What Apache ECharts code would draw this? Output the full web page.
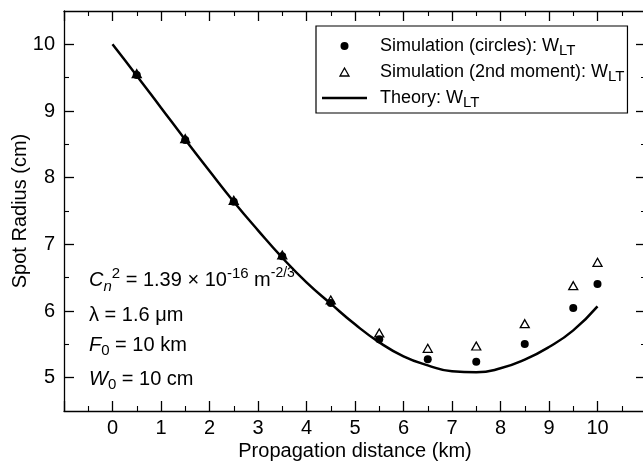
<!DOCTYPE html>
<html>
<head>
<meta charset="utf-8">
<script src="https://cdn.jsdelivr.net/npm/echarts@6/dist/echarts.min.js"></script>
<style>
  html, body { margin: 0; padding: 0; background: #fff; }
  #chart { width: 643px; height: 465px; }
</style>
</head>
<body>
<div id="chart"></div>
<script>
// Simulated spot radius sampling distances (km)
const distanceKm = [0.5, 1.5, 2.5, 3.5, 4.5, 5.5, 6.5, 7.5, 8.5, 9.5, 10];
// Spot radius from the circle-fit method (cm)
const circleRadius = [9.54, 8.565, 7.64, 6.82, 6.12, 5.575, 5.275, 5.24, 5.505, 6.045, 6.405];
// Spot radius from the second-moment method (cm)
const momentRadius = [9.56, 8.585, 7.66, 6.84, 6.165, 5.67, 5.44, 5.475, 5.81, 6.38, 6.73];
// Theoretical long-term spot radius curve
const theoryKm = [0, 0.5, 1, 1.5, 2, 2.5, 3, 3.5, 4, 4.5, 5, 5.5, 6, 6.5, 7, 7.5, 8, 8.5, 9, 9.5, 10];
const theoryRadius = [10.0, 9.53, 9.05, 8.57, 8.10, 7.64, 7.21, 6.80, 6.43, 6.11, 5.80, 5.53, 5.32, 5.185, 5.095, 5.08, 5.14, 5.27, 5.46, 5.71, 6.07];
// Axis ticks
const xTicks = [0, 1, 2, 3, 4, 5, 6, 7, 8, 9, 10];
const yMajorTicks = [5, 6, 7, 8, 9, 10];
const yMinorTicks = [5.5, 6.5, 7.5, 8.5, 9.5];
// Series names
const seriesNames = ['Simulation (circles): W', 'Simulation (2nd moment): W', 'Theory: W'];

const FONT = 'Liberation Sans, Arial, Helvetica, sans-serif';
const ink = '#000';

const zip = (xs, ys) => xs.map((x, i) => [x, ys[i]]);

const xBase = {
  type: 'value', min: -1, max: 11, interval: 1,
  splitLine: { show: false },
  axisLine: { show: true, onZero: false, lineStyle: { color: ink, width: 1.3 } },
  axisTick: { show: true, inside: true, length: 10, lineStyle: { color: ink, width: 1.3 } },
  minorTick: { show: true, splitNumber: 2, length: 5, lineStyle: { color: ink, width: 1.1 } },
  minorSplitLine: { show: false }
};

const yBase = {
  type: 'value', min: 4.5, max: 10.5,
  splitLine: { show: false },
  axisLine: { show: true, onZero: false, lineStyle: { color: ink, width: 1.3 } }
};

const txt = (size, extra) => Object.assign({ fontFamily: FONT, fontSize: size, color: ink }, extra || {});

const option = {
  backgroundColor: '#fff',
  animation: false,
  textStyle: { fontFamily: FONT, color: ink },
  grid: { left: 64, top: 11, width: 582, height: 400, containLabel: false, outerBoundsMode: 'none' },
  xAxis: [
    Object.assign({}, xBase, {
      position: 'bottom',
      name: 'Propagation distance (km)',
      nameLocation: 'middle',
      nameGap: 30,
      nameMoveOverlap: false,
      nameTextStyle: txt(20),
      axisLabel: Object.assign(txt(20), { show: true, margin: 7, customValues: xTicks })
    }),
    Object.assign({}, xBase, {
      position: 'top',
      axisLabel: { show: false }
    })
  ],
  yAxis: [
    Object.assign({}, yBase, {
      position: 'left',
      name: 'Spot Radius (cm)',
      nameLocation: 'middle',
      nameGap: 34,
      nameMoveOverlap: false,
      nameRotate: 90,
      nameTextStyle: txt(20),
      axisTick: { show: true, inside: true, length: 10, customValues: yMajorTicks, lineStyle: { color: ink, width: 1.3 } },
      axisLabel: Object.assign(txt(20), { show: true, margin: 9, customValues: yMajorTicks })
    }),
    Object.assign({}, yBase, {
      position: 'right',
      axisTick: { show: true, inside: true, length: 10, customValues: yMajorTicks, lineStyle: { color: ink, width: 1.3 } },
      axisLabel: { show: false }
    }),
    Object.assign({}, yBase, {
      position: 'left',
      axisLine: { show: false, onZero: false },
      axisTick: { show: true, inside: true, length: 5, customValues: yMinorTicks, lineStyle: { color: ink, width: 1.1 } },
      axisLabel: { show: false }
    }),
    Object.assign({}, yBase, {
      position: 'right',
      axisLine: { show: false, onZero: false },
      axisTick: { show: true, inside: true, length: 5, customValues: yMinorTicks, lineStyle: { color: ink, width: 1.1 } },
      axisLabel: { show: false }
    })
  ],
  legend: {
    orient: 'vertical',
    left: 316, top: 26,
    padding: [11, 3, 3, 6],
    itemGap: 5,
    itemWidth: 45,
    itemHeight: 8,
    borderColor: ink, borderWidth: 1.2,
    backgroundColor: '#fff',
    selectedMode: false,
    formatter: name => '{a|' + name + '}{sub|LT}',
    textStyle: {
      fontFamily: FONT, color: ink, fontSize: 18,
      rich: {
        a: txt(18, { lineHeight: 24, verticalAlign: 'middle', padding: [0, 0, 0, 8] }),
        sub: txt(15, { lineHeight: 14, verticalAlign: 'bottom' })
      }
    },
    data: [
      { name: seriesNames[0], icon: 'circle', itemStyle: { color: ink } },
      { name: seriesNames[1], icon: 'path://M4.5 0L9 8H0Z', itemStyle: { color: '#fff', borderColor: ink, borderWidth: 1.3 } },
      { name: seriesNames[2], icon: 'path://M0 0H45V2.4H0Z', itemStyle: { color: ink } }
    ]
  },
  graphic: [
    {
      type: 'text', left: 89, top: 266, z: 10,
      style: {
        text: '{i|C}{isub|n}{sup|2}{m| = 1.39 × 10}{sup|-16}{m| m}{sup2|-2/3}',
        fill: ink,
        rich: {
          i: txt(20, { fontStyle: 'italic', lineHeight: 28, verticalAlign: 'middle' }),
          isub: txt(15, { fontStyle: 'italic', lineHeight: 14, verticalAlign: 'bottom' }),
          sup: txt(15, { lineHeight: 14, verticalAlign: 'top' }),
          sup2: txt(14, { lineHeight: 14, verticalAlign: 'top' }),
          m: txt(20, { lineHeight: 28, verticalAlign: 'middle' })
        }
      }
    },
    {
      type: 'text', left: 89, top: 305, z: 10,
      style: {
        text: '{m|λ = 1.6 μm}',
        fill: ink,
        rich: { m: txt(20, { lineHeight: 26, verticalAlign: 'middle' }) }
      }
    },
    {
      type: 'text', left: 89, top: 335, z: 10,
      style: {
        text: '{i|F}{sub|0}{m| = 10 km}',
        fill: ink,
        rich: {
          i: txt(20, { fontStyle: 'italic', lineHeight: 26, verticalAlign: 'middle' }),
          sub: txt(15, { lineHeight: 14, verticalAlign: 'bottom' }),
          m: txt(20, { lineHeight: 26, verticalAlign: 'middle' })
        }
      }
    },
    {
      type: 'text', left: 89, top: 369, z: 10,
      style: {
        text: '{i|W}{sub|0}{m| = 10 cm}',
        fill: ink,
        rich: {
          i: txt(20, { fontStyle: 'italic', lineHeight: 26, verticalAlign: 'middle' }),
          sub: txt(15, { lineHeight: 14, verticalAlign: 'bottom' }),
          m: txt(20, { lineHeight: 26, verticalAlign: 'middle' })
        }
      }
    }
  ],
  series: [
    {
      name: seriesNames[0], type: 'scatter', xAxisIndex: 0, yAxisIndex: 0, z: 4,
      symbol: 'circle', symbolSize: 8,
      itemStyle: { color: ink, opacity: 1 },
      data: zip(distanceKm, circleRadius)
    },
    {
      name: seriesNames[1], type: 'scatter', xAxisIndex: 0, yAxisIndex: 0, z: 3,
      symbol: 'triangle', symbolSize: [9, 8],
      itemStyle: { color: '#fff', borderColor: ink, borderWidth: 1.3, opacity: 1 },
      data: zip(distanceKm, momentRadius)
    },
    {
      name: seriesNames[2], type: 'line', xAxisIndex: 0, yAxisIndex: 0, z: 2,
      smooth: true, showSymbol: false, symbol: 'none',
      lineStyle: { color: ink, width: 2.5 },
      itemStyle: { color: ink },
      data: zip(theoryKm, theoryRadius)
    }
  ]
};

const chart = echarts.init(document.getElementById('chart'), null, { renderer: 'canvas' });
chart.setOption(option);
</script>
</body>
</html>
